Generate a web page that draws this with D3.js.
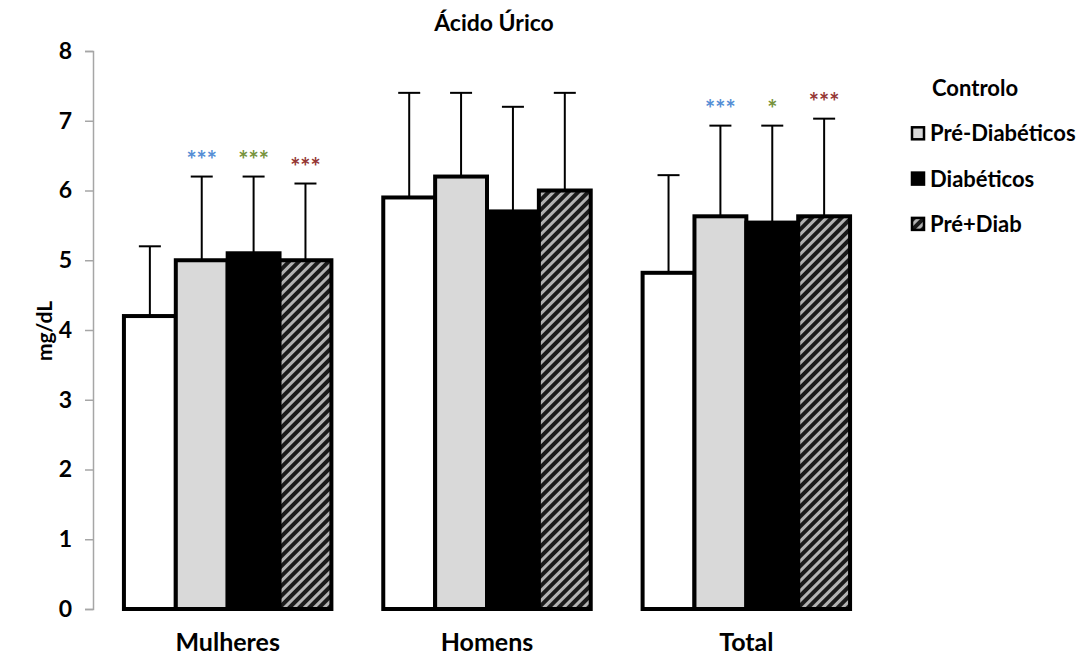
<!DOCTYPE html>
<html lang="pt">
<head>
<meta charset="utf-8">
<title>Ácido Úrico</title>
<script src="https://d3js.org/d3.v7.min.js"></script>
<style>
  body { margin: 0; background: #fff; font-family: Lato, "Open Sans", sans-serif; }
  .tick text { font-size: 23px; font-weight: bold; fill: #000; font-family: Lato, sans-serif; }
  .axis path, .axis line { stroke: #a6a6a6; stroke-width: 1.5; }
</style>
</head>
<body>
<div id="vis"></div>
<script>

// Data
var groups = ['Mulheres', 'Homens', 'Total'];
var series = ['Controlo', 'Pré-Diabéticos', 'Diabéticos', 'Pré+Diab'];
var means = [
  [4.2, 5.0, 5.1, 5.0],
  [5.9, 6.2, 5.7, 6.0],
  [4.82, 5.63, 5.54, 5.63]
];
var errors = [
  [1.0, 1.2, 1.1, 1.1],
  [1.5, 1.2, 1.5, 1.4],
  [1.4, 1.3, 1.39, 1.4]
];
var stars = [
  ['', '***', '***', '***'],
  ['', '', '', ''],
  ['', '***', '*', '***']
];
var yTicks = [0, 1, 2, 3, 4, 5, 6, 7, 8];

var width = 1087, height = 659;

var svg = d3.select('#vis').append('svg')
    .attr('width', width)
    .attr('height', height);

// hatch pattern
var defs = svg.append('defs');
var pat = defs.append('pattern')
    .attr('id', 'hatch')
    .attr('patternUnits', 'userSpaceOnUse')
    .attr('width', 7)
    .attr('height', 7)
    .attr('patternTransform', 'rotate(45)');
pat.append('rect').attr('width', 7).attr('height', 7).attr('fill', '#1a1a1a');
pat.append('rect').attr('x', 0).attr('width', 3).attr('height', 7).attr('fill', '#b3b3b3');

var fills = ['#fff', '#d9d9d9', '#000', 'url(#hatch)'];
var starColors = ['#000', '#558ed5', '#77933c', '#953735'];

var y = d3.scaleLinear().domain([0, 8]).range([609, 51]);
var x0 = d3.scaleBand().domain(groups).range([98, 876]);
var x1 = d3.scaleBand().domain(series).range([0, x0.bandwidth()]).paddingOuter(0.5);

// y axis
var yAxis = d3.axisLeft(y).tickValues(yTicks).tickSize(8).tickSizeOuter(8).tickPadding(13);
svg.append('g')
    .attr('class', 'axis')
    .attr('transform', 'translate(93,0)')
    .call(yAxis);

// bars
var g = svg.selectAll('.group')
  .data(groups)
  .enter().append('g')
    .attr('class', 'group')
    .attr('transform', function(d) { return 'translate(' + x0(d) + ',0)'; });

g.each(function(grp, gi) {
  var sel = d3.select(this);
  series.forEach(function(s, si) {
    var bx = x1(s), bw = x1.bandwidth();
    var top = y(means[gi][si] + errors[gi][si]);
    // error bar
    sel.append('line')
      .attr('x1', bx + bw / 2).attr('x2', bx + bw / 2)
      .attr('y1', y(means[gi][si])).attr('y2', top)
      .attr('stroke', '#000').attr('stroke-width', 2);
    sel.append('line')
      .attr('x1', bx + bw / 2 - 11).attr('x2', bx + bw / 2 + 11)
      .attr('y1', top).attr('y2', top)
      .attr('stroke', '#000').attr('stroke-width', 2);
    sel.append('rect')
      .attr('x', bx)
      .attr('y', y(means[gi][si]))
      .attr('width', bw)
      .attr('height', y(0) - y(means[gi][si]))
      .attr('fill', fills[si])
      .attr('stroke', '#000')
      .attr('stroke-width', 4);
    if (stars[gi][si]) {
      sel.append('text')
        .attr('x', bx + bw / 2)
        .attr('y', top - 8)
        .attr('text-anchor', 'middle')
        .attr('fill', starColors[si])
        .style('font-size', '24px')
        .style('font-weight', 'bold')
        .text(stars[gi][si]);
    }
  });
});

// x labels
svg.selectAll('.xlabel')
  .data(groups)
  .enter().append('text')
    .attr('class', 'xlabel')
    .attr('x', function(d) { return x0(d) + x0.bandwidth() / 2; })
    .attr('y', 651)
    .attr('text-anchor', 'middle')
    .style('font-size', '25px')
    .style('font-weight', 'bold')
    .text(function(d) { return d; });

// title
svg.append('text')
    .attr('x', 494).attr('y', 31)
    .attr('text-anchor', 'middle')
    .style('font-size', '23px')
    .style('font-weight', 'bold')
    .text('Ácido Úrico');

// y label
svg.append('text')
    .attr('transform', 'translate(52,331) rotate(-90)')
    .attr('text-anchor', 'middle')
    .style('font-size', '21px')
    .style('font-weight', 'bold')
    .text('mg/dL');

// legend
var leg = svg.selectAll('.leg')
  .data(series)
  .enter().append('g')
    .attr('class', 'leg')
    .attr('transform', function(d, i) { return 'translate(911,' + (88 + i * 45.3) + ')'; });

leg.append('rect')
    .attr('x', 1).attr('y', -6)
    .attr('width', 12).attr('height', 12)
    .attr('fill', function(d, i) { return fills[i]; })
    .attr('stroke', function(d, i) { return i === 0 ? 'none' : '#000'; })
    .attr('stroke-width', 2.5);

leg.append('text')
    .attr('x', function(d, i) { return i === 0 ? 21 : 19; })
    .attr('y', 8)
    .style('font-size', '22px')
    .style('font-weight', 'bold')
    .text(function(d) { return d; });

</script>
</body>
</html>
